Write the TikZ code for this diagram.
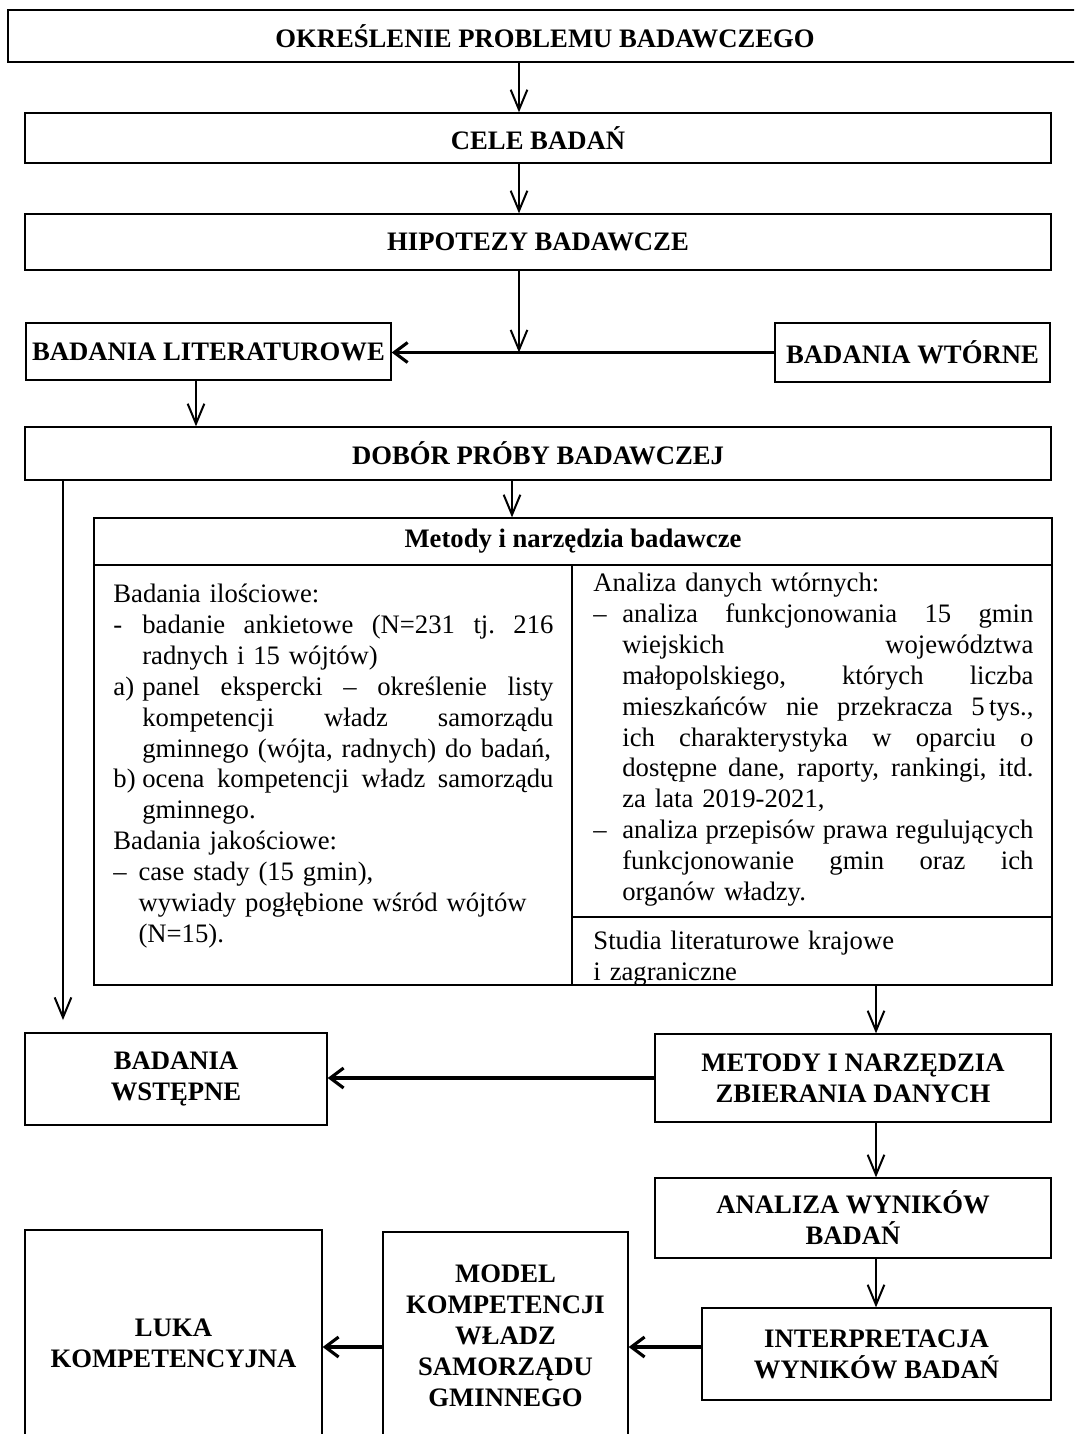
\documentclass[tikz,border=0pt]{standalone}
\usepackage{fontspec}
\setmainfont{Liberation Serif}
\usetikzlibrary{arrows.meta}

\newlength\colw
\setlength\colw{198pt}
\newlength\hang
\setlength\hang{13pt}
\newcommand\spread[1]{\makebox[\dimexpr\colw-\hang\relax][s]{%
  \spaceskip=\fontdimen2\font plus 1fil\xspaceskip=\spaceskip #1}}

\tikzset{
  box/.style={draw, line width=0.6pt, inner sep=0pt, align=center,
    font=\fontsize{12pt}{13.9pt}\selectfont\bfseries},
  cell/.style={draw, line width=0.6pt, inner sep=0pt},
  sz/.style 2 args={minimum width=#1*0.45pt, minimum height=#2*0.45pt},
  celltext/.style={inner sep=0pt, anchor=north west, text width=\colw, align=left,
    font=\fontsize{12pt}{13.9pt}\selectfont},
  flow/.style={line width=0.9pt, -{Straight Barb[length=9pt,width=7.5pt]}},
  side/.style={line width=1.4pt, -{Straight Barb[length=6pt,width=9pt]}}
}

\begin{document}
\begin{tikzpicture}[x=0.45pt, y=-0.45pt]
  \clip (0,0) rectangle (1074,1434);

  % axes of the arrows
  \coordinate (axis) at (519,0);
  \coordinate (raxis) at (876,0);
  \coordinate (low) at (0,1347);

  \node[box, sz={1074}{52}] (okr) at (545,36) {OKREŚLENIE PROBLEMU BADAWCZEGO};
  \node[box, sz={1026}{50}] (cele) at (538,138) {CELE BADAŃ};
  \node[box, sz={1026}{56}] (hip) at (538,242) {HIPOTEZY BADAWCZE};
  \node[box, sz={365}{57}] (lit) at (208.5,351.5) {BADANIA LITERATUROWE};
  \node[box, sz={275}{59}] (wtorne) at (912.5,352.5) {BADANIA WTÓRNE};
  \node[box, sz={1026}{53}] (dobor) at (538,453.5) {DOBÓR PRÓBY BADAWCZEJ};

  % table of methods
  \node[box, sz={958}{47}] (head) at (573,541.5) {Metody i narzędzia badawcze};
  \node[cell, sz={478}{420}] (ilosc) at (333,775) {};
  \node[cell, sz={480}{352}] (wtor) at (812,741) {};
  \node[cell, sz={480}{68}] (stud) at (812,951) {};

  \node[celltext] (ilosctxt) at (113,580.5) {\strut Badania ilościowe:\\
    \makebox[\hang][l]{-}\spread{badanie ankietowe (N=231 tj. 216}\\
    \hspace*{\hang}radnych i 15 wójtów)\\
    \makebox[\hang][l]{a)}\spread{panel ekspercki – określenie listy}\\
    \hspace*{\hang}\spread{kompetencji władz samorządu}\\
    \hspace*{\hang}gminnego (wójta, radnych) do badań,\\
    \makebox[\hang][l]{b)}\spread{ocena kompetencji władz samorządu}\\
    \hspace*{\hang}gminnego.\\
    Badania jakościowe:\\
    \makebox[11.3pt][l]{–}case stady (15 gmin),\\
    \hspace*{11.3pt}wywiady pogłębione wśród wójtów\\
    \hspace*{11.3pt}(N=15).};

  \node[celltext] (wtortxt) at (593,569.5) {\strut Analiza danych wtórnych:\\
    \makebox[\hang][l]{–}\spread{analiza funkcjonowania 15 gmin}\\
    \hspace*{\hang}\spread{wiejskich województwa}\\
    \hspace*{\hang}\spread{małopolskiego, których liczba}\\
    \hspace*{\hang}\spread{mieszkańców nie przekracza 5\,tys.,}\\
    \hspace*{\hang}\spread{ich charakterystyka w oparciu o}\\
    \hspace*{\hang}\spread{dostępne dane, raporty, rankingi, itd.}\\
    \hspace*{\hang}za lata 2019-2021,\\
    \makebox[\hang][l]{–}\spread{analiza przepisów prawa regulujących}\\
    \hspace*{\hang}\spread{funkcjonowanie gmin oraz ich}\\
    \hspace*{\hang}organów władzy.};

  \node[celltext] (studtxt) at (593,927.5) {\strut Studia literaturowe krajowe\\
    i zagraniczne};

  \node[box, sz={302}{92}] (wstepne) at (176,1079) {BADANIA\\ WSTĘPNE};
  \node[box, sz={396}{88}] (zbier) at (853,1078) {METODY I NARZĘDZIA\\ ZBIERANIA DANYCH};
  \node[box, sz={396}{80}] (anal) at (853,1218) {ANALIZA WYNIKÓW\\ BADAŃ};
  \node[box, sz={349}{92}] (interp) at (876.5,1354) {INTERPRETACJA\\ WYNIKÓW BADAŃ};
  \node[box, sz={245}{208}] (model) at (505.5,1336) {MODEL\\ KOMPETENCJI\\ WŁADZ\\ SAMORZĄDU\\ GMINNEGO};
  \node[box, sz={297}{226}] (luka) at (173.5,1343) {LUKA\\ KOMPETENCYJNA};
  \coordinate (wstin) at (63,1020);

  % connectors
  \draw[flow] (okr.south -| axis) -- (cele.north -| axis);
  \draw[flow] (cele.south -| axis) -- (hip.north -| axis);
  \draw[flow] (hip.south -| axis) -- (axis |- wtorne.west);
  \draw[side] (wtorne.west) -- (wtorne.west -| lit.east);
  \draw[flow] (lit.south -| 196,0) -- (dobor.north -| 196,0);
  \draw[flow] (dobor.south -| 512,0) -- (head.north -| 512,0);
  \draw[flow] (dobor.south -| wstin) -- (wstin);
  \draw[flow] (stud.south -| raxis) -- (zbier.north -| raxis);
  \draw[side] (zbier.west) -- (zbier.west -| wstepne.east);
  \draw[flow] (zbier.south -| raxis) -- (anal.north -| raxis);
  \draw[flow] (anal.south -| raxis) -- (interp.north -| raxis);
  \draw[side] (interp.west |- low) -- (model.east |- low);
  \draw[side] (model.west |- low) -- (luka.east |- low);
\end{tikzpicture}
\end{document}
